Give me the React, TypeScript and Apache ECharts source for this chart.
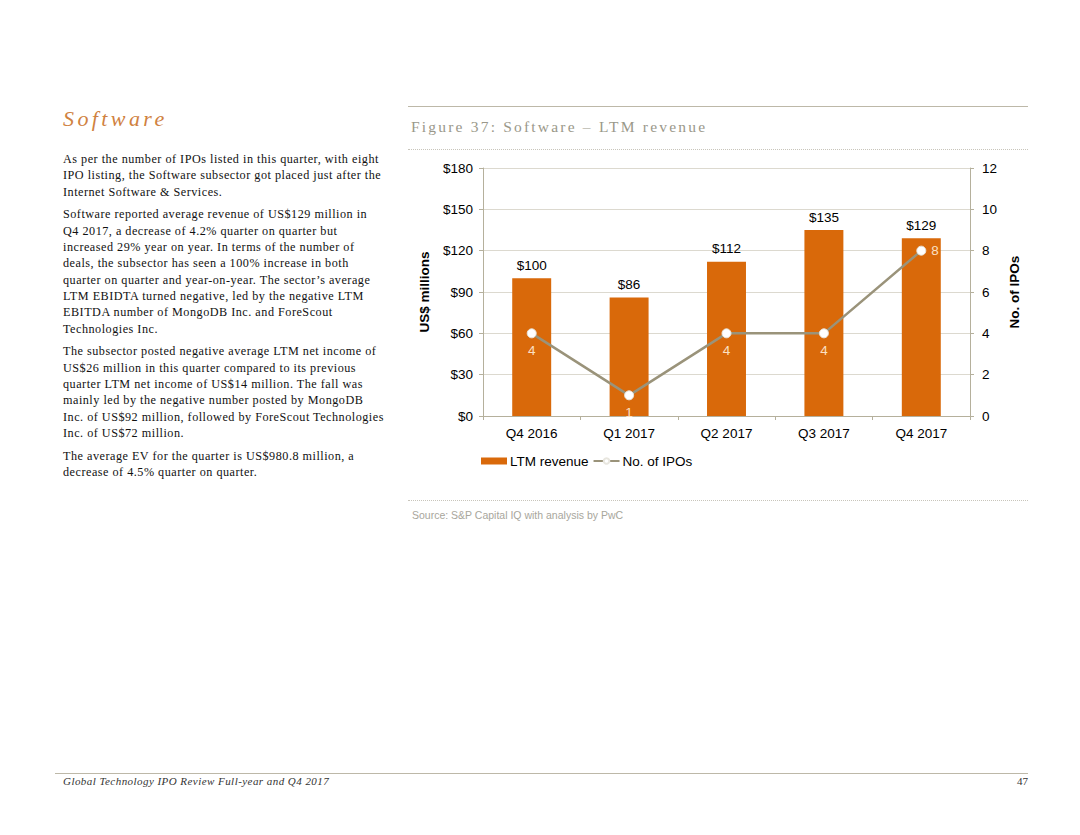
import React, { useEffect, useRef } from "react";
import * as echarts from "echarts";

const categories = ["Q4 2016", "Q1 2017", "Q2 2017", "Q3 2017", "Q4 2017"];
const ltmRevenue = [100, 86, 112, 135, 129];
const ipoCounts = [4, 1, 4, 4, 8];
const ipoLabelPositions = ["bottom", "bottom", "bottom", "bottom", "right"];
const leftTicks = { min: 0, max: 180, interval: 30 };
const rightTicks = { min: 0, max: 12, interval: 2 };

const paragraphs: string[][] = [
  [
    "As per the number of IPOs listed in this quarter, with eight",
    "IPO listing, the Software subsector got placed just after the",
    "Internet Software & Services.",
  ],
  [
    "Software reported average revenue of US$129 million in",
    "Q4 2017, a decrease of 4.2% quarter on quarter but",
    "increased 29% year on year. In terms of the number of",
    "deals, the subsector has seen a 100% increase in both",
    "quarter on quarter and year-on-year. The sector\u2019s average",
    "LTM EBIDTA turned negative, led by the negative LTM",
    "EBITDA number of MongoDB Inc. and ForeScout",
    "Technologies Inc.",
  ],
  [
    "The subsector posted negative average LTM net income of",
    "US$26 million in this quarter compared to its previous",
    "quarter LTM net income of US$14 million. The fall was",
    "mainly led by the negative number posted by MongoDB",
    "Inc. of US$92 million, followed by ForeScout Technologies",
    "Inc. of US$72 million.",
  ],
  [
    "The average EV for the quarter is US$980.8 million, a",
    "decrease of 4.5% quarter on quarter.",
  ],
];

const BAR = "#d9690a";
const LINE = "#9a937a";
const AXIS = "#b5b09c";
const GRID = "#dcd9cf";
const SANS = "'Liberation Sans', Arial, sans-serif";
const FS = 13.5;

function Chart() {
  const ref = useRef<HTMLDivElement>(null);
  useEffect(() => {
    if (!ref.current) return;
    const chart = echarts.init(ref.current, null, { renderer: "svg" });
    chart.setOption({
      animation: false,
      textStyle: { fontFamily: SANS },
      grid: { left: 83, right: 70, top: 18, bottom: 74 },
      legend: {
        left: 76,
        top: 299,
        itemGap: 4,
        itemWidth: 26,
        itemHeight: 7,
        textStyle: { fontSize: FS, color: "#000", fontFamily: SANS, padding: [0, 0, 0, -2] },
        data: [
          { name: "LTM revenue", icon: "rect" },
          { name: "No. of IPOs" },
        ],
      },
      xAxis: {
        type: "category",
        data: categories,
        axisLine: { lineStyle: { color: AXIS, width: 1 } },
        axisTick: { show: true, lineStyle: { color: AXIS }, length: 4 },
        axisLabel: { color: "#000", fontSize: FS, margin: 10 },
      },
      yAxis: [
        {
          type: "value",
          min: leftTicks.min,
          max: leftTicks.max,
          interval: leftTicks.interval,
          name: "US$ millions",
          nameLocation: "middle",
          nameGap: 52,
          nameTextStyle: { fontSize: FS, fontWeight: "bold", color: "#000" },
          axisLine: { show: true, lineStyle: { color: AXIS } },
          axisTick: { show: true, lineStyle: { color: AXIS }, length: 4 },
          axisLabel: { color: "#000", fontSize: FS, margin: 10, formatter: (v: number) => "$" + v },
          splitLine: { show: true, lineStyle: { color: GRID } },
        },
        {
          type: "value",
          min: rightTicks.min,
          max: rightTicks.max,
          interval: rightTicks.interval,
          name: "No. of IPOs",
          nameLocation: "middle",
          nameGap: 32,
          nameRotate: 90,
          nameTextStyle: { fontSize: FS, fontWeight: "bold", color: "#000" },
          axisLine: { show: true, lineStyle: { color: AXIS } },
          axisTick: { show: true, lineStyle: { color: AXIS }, length: 4 },
          axisLabel: { color: "#000", fontSize: FS, margin: 12 },
          splitLine: { show: false },
        },
      ],
      series: [
        {
          name: "LTM revenue",
          type: "bar",
          data: ltmRevenue,
          barWidth: "40%",
          itemStyle: { color: BAR },
          label: {
            show: true,
            position: "top",
            distance: 6,
            color: "#000",
            fontSize: FS,
            formatter: (p: any) => "$" + p.value,
          },
        },
        {
          name: "No. of IPOs",
          type: "line",
          yAxisIndex: 1,
          data: ipoCounts.map((v, i) => ({
            value: v,
            label: { position: ipoLabelPositions[i] },
          })),
          symbol: "circle",
          symbolSize: 9,
          lineStyle: { color: LINE, width: 2.5 },
          itemStyle: { color: "#ffffff", borderColor: "#e8e6df", borderWidth: 1 },
          label: {
            show: true,
            color: "#fbe0c4",
            fontSize: FS,
            distance: 5,
          },
        },
      ],
    });
    return () => chart.dispose();
  }, []);
  return (
    <div
      ref={ref}
      style={{ position: "absolute", left: 400, top: 150, width: 640, height: 340 }}
    />
  );
}

export default function App() {
  const serif = "'Liberation Serif', 'Times New Roman', serif";
  let y = 151;
  const lines: React.ReactNode[] = [];
  paragraphs.forEach((p, pi) => {
    p.forEach((line, li) => {
      lines.push(
        <div
          key={pi + "-" + li}
          style={{
            position: "absolute",
            left: 63,
            top: y,
            fontFamily: serif,
            fontSize: 12.2,
            letterSpacing: 0.5,
            lineHeight: "16px",
            color: "#111",
            whiteSpace: "nowrap",
          }}
        >
          {line}
        </div>
      );
      y += 16.3;
    });
    y += 6.5;
  });

  return (
    <div
      style={{
        position: "absolute",
        left: 0,
        top: 0,
        width: 1080,
        height: 835,
        background: "#ffffff",
        overflow: "hidden",
      }}
    >
      <div
        style={{
          position: "absolute",
          left: 63,
          top: 106,
          fontFamily: serif,
          fontStyle: "italic",
          fontSize: 22,
          letterSpacing: 3.4,
          color: "#d0823f",
          whiteSpace: "nowrap",
        }}
      >
        Software
      </div>
      {lines}
      <div style={{ position: "absolute", left: 408, top: 106, width: 620, height: 0, borderTop: "1px solid #bdb8a8" }} />
      <div
        style={{
          position: "absolute",
          left: 411,
          top: 118,
          fontFamily: serif,
          fontSize: 15.5,
          letterSpacing: 2.2,
          color: "#9a988a",
          whiteSpace: "nowrap",
        }}
      >
        Figure 37: Software – LTM revenue
      </div>
      <div style={{ position: "absolute", left: 408, top: 149, width: 620, height: 0, borderTop: "1px dotted #c8c5bb" }} />
      <Chart />
      <div style={{ position: "absolute", left: 408, top: 500, width: 620, height: 0, borderTop: "1px dotted #c8c5bb" }} />
      <div
        style={{
          position: "absolute",
          left: 412,
          top: 509,
          fontFamily: SANS,
          fontSize: 10.5,
          color: "#a8a69c",
          whiteSpace: "nowrap",
        }}
      >
        Source: S&amp;P Capital IQ with analysis by PwC
      </div>
      <div style={{ position: "absolute", left: 55, top: 773, width: 973, height: 0, borderTop: "1px solid #bdb8a8" }} />
      <div
        style={{
          position: "absolute",
          left: 63,
          top: 775,
          fontFamily: serif,
          fontStyle: "italic",
          fontSize: 11,
          letterSpacing: 0.45,
          color: "#333",
          whiteSpace: "nowrap",
        }}
      >
        Global Technology IPO Review Full-year and Q4 2017
      </div>
      <div
        style={{
          position: "absolute",
          right: 52,
          top: 775,
          fontFamily: serif,
          fontSize: 11,
          color: "#333",
        }}
      >
        47
      </div>
    </div>
  );
}
